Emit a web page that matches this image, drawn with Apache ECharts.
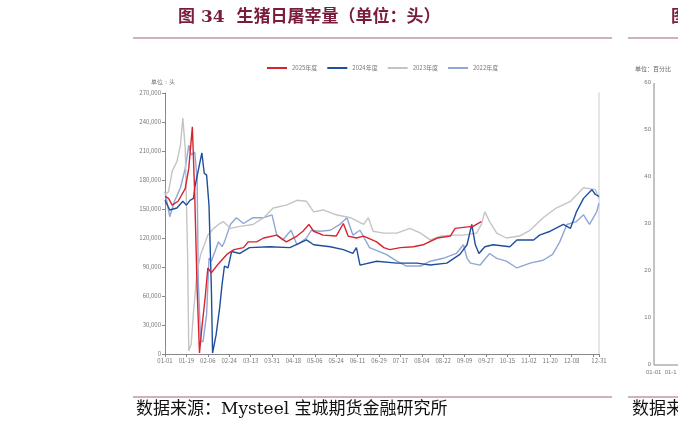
<!DOCTYPE html>
<html>
<head>
<meta charset="utf-8">
<script src="https://cdn.jsdelivr.net/npm/echarts@6/dist/echarts.min.js"></script>
<style>
html,body{margin:0;padding:0;background:#fff;}
#main{width:678px;height:433px;}
</style>
</head>
<body>
<div id="main"></div>
<script>
// 横轴为一年中的第几天（按闰年 366 天算，01-01 = 0）
var days2025 = [0,3,6,11,17,20,23,25,27,29,31,34,36,39,44,52,58,66,70,77,83,94,102,111,116,121,125,133,144,150,154,161,167,178,184,189,198,209,217,229,240,244,251,259,266];
var vals2025 = [163,161,154,158,171,192,235,165,68,1,27,61,89,84,92,103,108,110,116,116,120,123,116,122,127,134,127,123,122,135,122,120,122,116,110,108,110,111,113,120,122,130,131,132,137];

var days2024 = [0,4,10,15,18,21,24,25,28,31,33,35,37,39,40,43,46,48,50,53,56,63,71,88,105,119,125,139,150,158,161,164,178,195,212,223,237,248,254,258,261,264,269,276,290,296,310,315,324,335,341,346,352,359,362,365];
var vals2024 = [159,149,151,158,154,159,161,172,190,208,187,185,154,68,1,20,48,72,91,89,106,104,110,111,110,118,113,111,108,104,110,92,96,94,94,92,94,103,113,134,113,104,111,113,111,118,118,123,127,134,130,147,161,170,165,163];

var days2023 = [0,3,6,10,13,15,17,19,20,22,24,27,30,34,36,41,45,49,55,63,74,83,91,102,111,119,125,133,144,156,167,171,175,184,195,206,215,223,232,243,251,262,266,269,273,279,287,298,307,318,329,341,352,362,365];
var vals2023 = [165,168,189,199,216,244,213,103,3,10,44,85,103,116,123,130,134,137,130,132,134,141,151,154,159,158,147,149,144,141,134,141,127,125,125,130,125,118,122,123,123,125,134,147,137,125,120,122,128,141,151,158,172,170,161];

var days2022 = [0,4,8,13,17,20,22,25,27,28,30,32,35,37,39,42,45,48,50,55,60,66,74,83,90,94,99,106,111,119,123,130,139,147,153,158,164,172,186,195,203,215,223,234,245,251,254,257,265,273,279,287,296,307,318,326,332,338,346,352,357,363,365];
var vals2022 = [168,142,158,172,192,216,206,209,182,75,13,13,41,99,96,106,116,111,116,134,141,135,141,141,144,123,118,128,113,120,128,127,128,134,141,123,128,110,103,96,91,91,96,99,104,113,99,94,92,104,99,96,89,94,97,103,116,134,137,144,134,147,156];

var seriesNames = ['2025年度', '2024年度', '2023年度', '2022年度'];
var seriesColors = ['#d7242f', '#1f4e9c', '#c4c4c4', '#8fa6d6'];
var tickLabels = ['01-01','01-19','02-06','02-24','03-13','03-31','04-18','05-06','05-24','06-11','06-29','07-17','08-04','08-22','09-09','09-27','10-15','11-02','11-20','12-08','12-31'];

function pairs(d, v) {
    var out = [];
    for (var i = 0; i < d.length; i++) out.push([d[i], v[i] * 1000]);
    return out;
}
var allData = [pairs(days2025, vals2025), pairs(days2024, vals2024), pairs(days2023, vals2023), pairs(days2022, vals2022)];

var chart = echarts.init(document.getElementById('main'));
var small = {fontSize: 6, color: '#777', fontFamily: 'Noto Sans CJK SC'};
var serif = 'DejaVu Serif, Noto Sans CJK SC';

var series = [];
for (var i = 3; i >= 0; i--) {
    series.push({
        name: seriesNames[i],
        type: 'line',
        data: allData[i],
        showSymbol: false,
        lineStyle: {width: 1.4, color: seriesColors[i]},
        itemStyle: {color: seriesColors[i]},
        z: 10 - i
    });
}

// 右侧被截断的下一张图，只画出坐标轴
var rightTicks = [];
for (var t = 0; t <= 6; t++) {
    rightTicks.push({type: 'text', right: 678 - 651, top: 365 - t * 47 - 4, style: {text: String(t * 10), fontSize: 6, fill: '#777', align: 'right'}});
}

var option = {
    animation: false,
    color: seriesColors,
    legend: {
        data: seriesNames,
        top: 60,
        left: 262,
        itemWidth: 20,
        itemHeight: 2,
        itemGap: 10,
        icon: 'rect',
        textStyle: small
    },
    grid: {left: 165, top: 93, right: 79, bottom: 79},
    xAxis: {
        type: 'value',
        min: 0,
        max: 365,
        interval: 18,
        axisLine: {lineStyle: {color: '#888'}},
        axisTick: {lineStyle: {color: '#888'}, length: 3},
        splitLine: {show: false},
        axisLabel: Object.assign({}, small, {
            margin: 4,
            showMaxLabel: true,
            formatter: function (v) {
                if (v === 365) return tickLabels[tickLabels.length - 1];
                var k = v / 18;
                return k < tickLabels.length - 1 ? tickLabels[k] : '';
            }
        })
    },
    yAxis: [{
        type: 'value',
        min: 0,
        max: 270000,
        interval: 30000,
        name: '单位：头',
        nameLocation: 'end',
        nameGap: 8,
        nameTextStyle: {fontSize: 6, color: '#666', align: 'left', padding: [0, 0, 0, -14]},
        axisLine: {show: true, lineStyle: {color: '#888'}},
        axisTick: {show: true, length: 3, lineStyle: {color: '#888'}},
        splitLine: {show: false},
        axisLabel: Object.assign({}, small, {
            margin: 4,
            formatter: function (v) { return v === 0 ? '0' : v.toLocaleString('en-US'); }
        })
    }, {
        type: 'value',
        position: 'right',
        min: 0,
        max: 270000,
        axisLine: {show: true, lineStyle: {color: '#ddd', width: 1.5}},
        axisTick: {show: false},
        axisLabel: {show: false},
        splitLine: {show: false}
    }],
    series: series,
    graphic: [
        {type: 'text', left: 178, top: 9, style: {text: '图 34  生猪日屠宰量（单位：头）', fontSize: 17, fontWeight: 'bold', fill: '#7a1c3e', fontFamily: serif}},
        {type: 'text', left: 671, top: 9, style: {text: '图', fontSize: 17, fontWeight: 'bold', fill: '#7a1c3e', fontFamily: serif}},
        {type: 'line', shape: {x1: 133, y1: 38, x2: 612, y2: 38}, style: {stroke: '#a0637a', lineWidth: 1.2}},
        {type: 'line', shape: {x1: 628, y1: 38, x2: 678, y2: 38}, style: {stroke: '#a0637a', lineWidth: 1.2}},
        {type: 'line', shape: {x1: 133, y1: 397, x2: 612, y2: 397}, style: {stroke: '#a0637a', lineWidth: 1.2}},
        {type: 'line', shape: {x1: 628, y1: 397, x2: 678, y2: 397}, style: {stroke: '#a0637a', lineWidth: 1.2}},
        {type: 'text', left: 136, top: 401, style: {text: '数据来源：Mysteel 宝城期货金融研究所', fontSize: 17, fill: '#111', fontFamily: serif}},
        {type: 'text', left: 632, top: 401, style: {text: '数据来源', fontSize: 17, fill: '#111', fontFamily: serif}},
        {type: 'text', left: 635, top: 66, style: {text: '单位：百分比', fontSize: 6, fill: '#666', fontFamily: 'Noto Sans CJK SC'}},
        {type: 'line', shape: {x1: 654, y1: 83, x2: 654, y2: 365}, style: {stroke: '#888', lineWidth: 1}},
        {type: 'line', shape: {x1: 654, y1: 365, x2: 678, y2: 365}, style: {stroke: '#888', lineWidth: 1}},
        {type: 'text', left: 646, top: 369, style: {text: '01-01  01-1', fontSize: 6, fill: '#777'}}
    ].concat(rightTicks)
};
chart.setOption(option);
</script>
</body>
</html>
